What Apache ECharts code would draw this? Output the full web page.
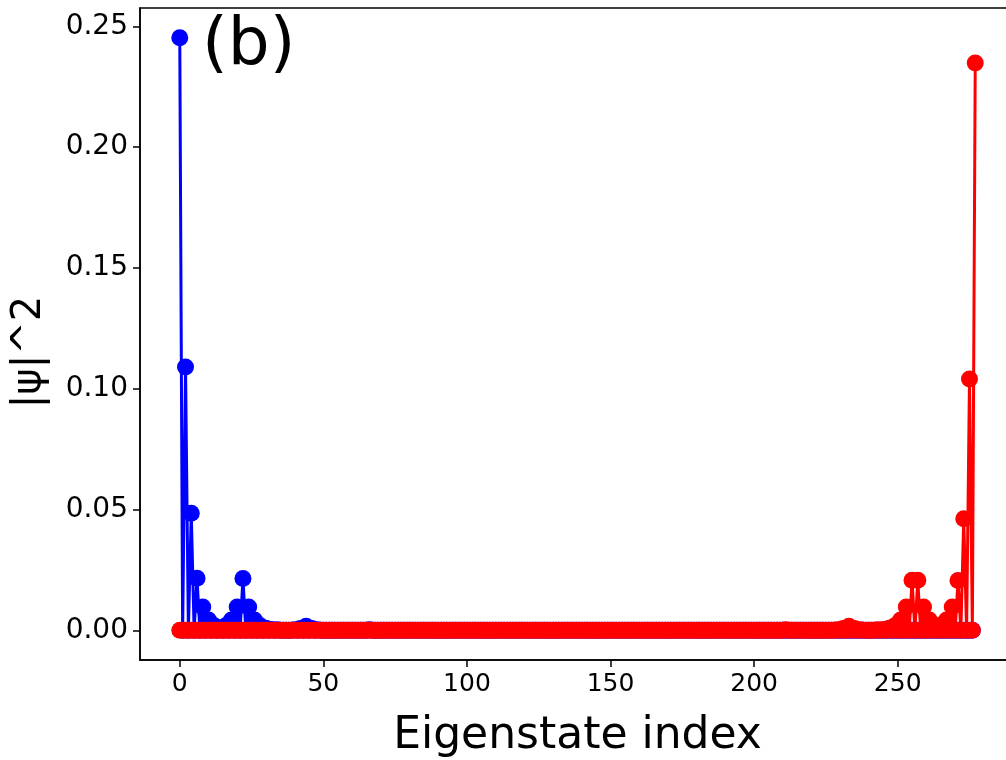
<!DOCTYPE html>
<html>
<head>
<meta charset="utf-8">
<script src="https://cdn.jsdelivr.net/npm/echarts@6/dist/echarts.min.js"></script>
<style>html,body{margin:0;padding:0;background:#fff}#c{width:1006px;height:760px}</style>
</head>
<body>
<div id="c"></div>
<script>
// number of eigenstates plotted for each state
var blueCount = 277;   // indices 0..276
var redCount = 278;    // indices 0..277
// blue state: non-zero |psi|^2 entries (index, value); all other indices are 0
var blueIdx = [0, 2, 4, 6, 8, 10, 12, 14, 16, 18, 20, 22, 24, 26, 28, 30, 32, 34, 40, 42, 44, 46, 48, 66];
var blueVal = [0.2453, 0.109, 0.0485, 0.0216, 0.0097, 0.0043, 0.0019, 0.0010, 0.0019, 0.0043, 0.0097, 0.0215, 0.0097, 0.0043, 0.0019, 0.0009, 0.0004, 0.0002, 0.0003, 0.0008, 0.0017, 0.0008, 0.0003, 0.0003];
// red state: non-zero |psi|^2 entries (index, value)
var redIdx = [277, 275, 273, 271, 269, 267, 265, 263, 261, 259, 257, 255, 253, 251, 249, 247, 245, 243, 237, 235, 233, 231, 229, 211];
var redVal = [0.2348, 0.104, 0.0462, 0.0206, 0.0097, 0.0043, 0.0020, 0.0020, 0.0043, 0.0097, 0.0207, 0.0207, 0.0097, 0.0043, 0.0019, 0.0009, 0.0004, 0.0002, 0.0003, 0.0008, 0.0017, 0.0008, 0.0003, 0.0003];
// tick labels
var xTicks = [0, 50, 100, 150, 200, 250];
var yTicks = [0, 0.05, 0.10, 0.15, 0.20, 0.25];

function buildSeries(n, idx, val) {
  var arr = [];
  for (var i = 0; i < n; i++) arr.push([i, 0]);
  for (var k = 0; k < idx.length; k++) arr[idx[k]][1] = val[k];
  return arr;
}
var blueData = buildSeries(blueCount, blueIdx, blueVal);
var redData = buildSeries(redCount, redIdx, redVal);

var chart = echarts.init(document.getElementById('c'), null, {renderer: 'canvas'});
var FONT = 'DejaVu Sans';
chart.setOption({
  animation: false,
  backgroundColor: '#fff',
  grid: {left: 140, top: 8, width: 875, height: 652, containLabel: false, outerBoundsMode: 'none',
    show: true, borderColor: '#000', borderWidth: 1.5, backgroundColor: 'transparent'},
  xAxis: {
    type: 'value', min: -13.85, max: 290.85,
    name: 'Eigenstate index', nameLocation: 'middle', nameGap: 55,
    nameTextStyle: {fontFamily: FONT, fontSize: 44, color: '#000'},
    axisLine: {show: true, onZero: false, lineStyle: {color: '#000', width: 1.5}},
    axisTick: {show: true, length: 7, lineStyle: {color: '#000', width: 1.5}, customValues: xTicks},
    axisLabel: {show: true, margin: 12, fontFamily: FONT, fontSize: 25, color: '#000', customValues: xTicks},
    splitLine: {show: false}
  },
  yAxis: {
    type: 'value', min: -0.01227, max: 0.2576,
    axisLine: {show: true, onZero: false, lineStyle: {color: '#000', width: 1.5}},
    axisTick: {show: true, length: 7, lineStyle: {color: '#000', width: 1.5}, customValues: yTicks},
    axisLabel: {show: true, margin: 12, fontFamily: FONT, fontSize: 28, color: '#000', customValues: yTicks,
      formatter: function (v) { return v.toFixed(2); }},
    splitLine: {show: false}
  },
  graphic: [{
    type: 'text', left: 202, top: 14,
    style: {text: '(b)', font: '66px "DejaVu Sans"', fill: '#000'}
  }, {
    type: 'text', x: 30, y: 352, rotation: Math.PI / 2,
    style: {text: '|\u03c8|^2', font: '40px "DejaVu Sans"', fill: '#000', align: 'center', verticalAlign: 'middle'}
  }],
  series: [{
    type: 'line', data: blueData, symbol: 'circle', symbolSize: 17, showAllSymbol: true,
    lineStyle: {color: '#0000ff', width: 3}, itemStyle: {color: '#0000ff'},
    emphasis: {disabled: true}, silent: true
  }, {
    type: 'line', data: redData, symbol: 'circle', symbolSize: 17, showAllSymbol: true,
    lineStyle: {color: '#ff0000', width: 3}, itemStyle: {color: '#ff0000'},
    emphasis: {disabled: true}, silent: true
  }]
});
</script>
</body>
</html>
